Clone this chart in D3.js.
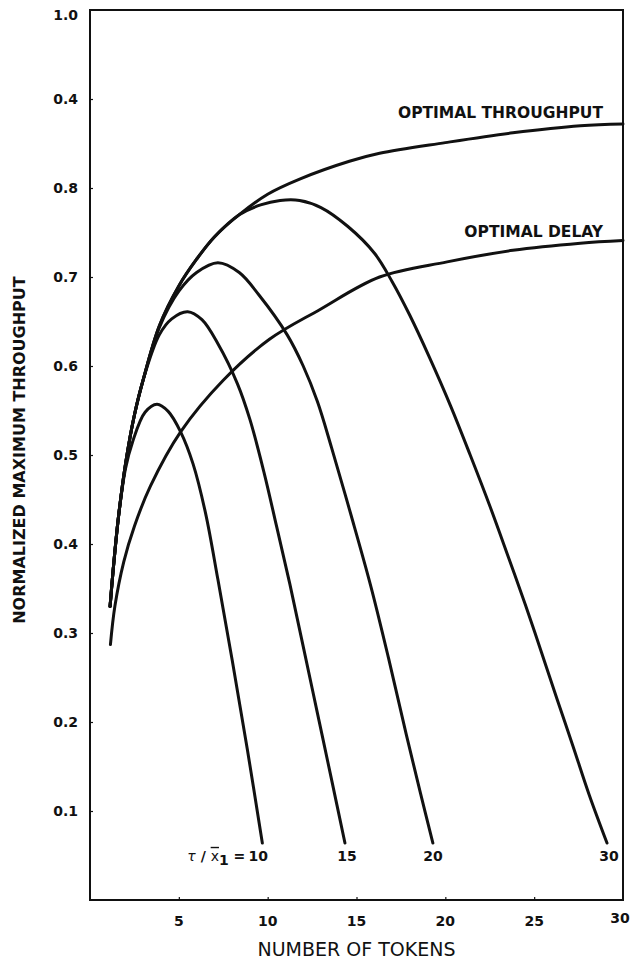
<!DOCTYPE html>
<html>
<head>
<meta charset="utf-8">
<script src="https://cdn.jsdelivr.net/npm/d3@7"></script>
<style>
  body { margin: 0; background: #fff; }
  text { font-family: 'DejaVu Sans', 'Liberation Sans', Arial, sans-serif; fill: #111; }
</style>
</head>
<body>
<svg id="chart" width="630" height="962"></svg>
<script>
// values
const yTicks = [0.1, 0.2, 0.3, 0.4, 0.5, 0.6, 0.7, 0.8, 0.9, 1.0];
const yTickLabels = ['0.1', '0.2', '0.3', '0.4', '0.5', '0.6', '0.7', '0.8', '0.4', '1.0']; // 0.9 is misprinted as 0.4
const xTicks = [5, 10, 15, 20, 25, 30];

const optThroughput = [
  [1.13, 0.33], [1.3, 0.37], [1.6, 0.43], [2.0, 0.49], [2.5, 0.545], [3.0, 0.585],
  [3.9, 0.645], [5.0, 0.69], [6.0, 0.72], [7.0, 0.745], [8.4, 0.77], [10, 0.793],
  [11.8, 0.81], [14.6, 0.83], [16.3, 0.839], [20, 0.851], [23.8, 0.862], [27.6, 0.87], [30, 0.872]
];
const optDelay = [
  [1.15, 0.287], [1.4, 0.33], [1.9, 0.38], [2.5, 0.42], [3.4, 0.465], [5.1, 0.526],
  [7.5, 0.584], [10.1, 0.63], [12.9, 0.663], [16.3, 0.70], [20.1, 0.717], [23.8, 0.73],
  [27.6, 0.738], [30, 0.741]
];
const tau10 = [
  [1.13, 0.33], [1.3, 0.37], [1.6, 0.43], [2.0, 0.485], [2.4, 0.515], [3.1, 0.548],
  [3.77, 0.557], [4.4, 0.549], [5.1, 0.526], [5.8, 0.49], [6.5, 0.435], [7.2, 0.36],
  [8.0, 0.27], [8.85, 0.17], [9.7, 0.064]
];
const tau15 = [
  [1.13, 0.33], [1.3, 0.37], [1.6, 0.43], [2.0, 0.49], [2.5, 0.545], [3.0, 0.585],
  [3.9, 0.635], [4.6, 0.653], [5.5, 0.661], [6.3, 0.652], [7.2, 0.625], [8.3, 0.58],
  [9.0, 0.54], [9.8, 0.48], [10.5, 0.42], [11.25, 0.355], [12.0, 0.285], [12.8, 0.21],
  [13.6, 0.135], [14.35, 0.064]
];
const tau20 = [
  [1.13, 0.33], [1.3, 0.37], [1.6, 0.43], [2.0, 0.49], [2.5, 0.545], [3.0, 0.585],
  [3.9, 0.643], [5.0, 0.684], [6.0, 0.705], [7.2, 0.716], [8.4, 0.705], [9.5, 0.68],
  [11.1, 0.635], [12.0, 0.6], [12.8, 0.56], [13.6, 0.508], [14.7, 0.432], [15.8, 0.353],
  [16.8, 0.272], [17.8, 0.186], [18.6, 0.12], [19.3, 0.064]
];
const tau30 = [
  [1.13, 0.33], [1.3, 0.37], [1.6, 0.43], [2.0, 0.49], [2.5, 0.545], [3.0, 0.585],
  [3.9, 0.645], [5.0, 0.69], [6.0, 0.72], [7.0, 0.745], [8.4, 0.77], [9.6, 0.781],
  [10.7, 0.786], [11.8, 0.786], [13, 0.778], [14.5, 0.757], [16, 0.727], [17, 0.695],
  [18, 0.657], [19.1, 0.61], [20.3, 0.555], [21.4, 0.5], [22.5, 0.443], [23.5, 0.388],
  [24.5, 0.332], [25.4, 0.279], [26.3, 0.225], [27.2, 0.172], [28.1, 0.118], [29.1, 0.064]
];

const curves = [optThroughput, optDelay, tau10, tau15, tau20, tau30];
const tauLabels = [
  { x: 9.7, text: '10' },
  { x: 14.35, text: '15' },
  { x: 19.3, text: '20' },
  { x: 29.1, text: '30' }
];
const tauShift = { '10': -4, '15': 2, '20': 0, '30': 2 };

const width = 630;
const height = 962;
const margin = { top: 10, right: 7, bottom: 62, left: 90 };

const svg = d3.select('#chart');

const x = d3.scaleLinear().domain([0, 30]).range([margin.left, width - margin.right]);
const y = d3.scaleLinear().domain([0, 1]).range([height - margin.bottom, margin.top]);

// frame
svg.append('rect')
  .attr('x', x(0))
  .attr('y', y(1))
  .attr('width', x(30) - x(0))
  .attr('height', y(0) - y(1))
  .attr('fill', 'none')
  .attr('stroke', '#111')
  .attr('stroke-width', 2);

// y axis, small inward ticks
const yAxis = svg.append('g')
  .attr('transform', `translate(${x(0)},0)`)
  .call(d3.axisRight(y).tickValues(yTicks.slice(0, 9)).tickSize(3).tickFormat(''));
yAxis.select('.domain').remove();
yAxis.selectAll('line').attr('stroke', '#111').attr('stroke-width', 1.2);

svg.append('g')
  .selectAll('text')
  .data(yTicks)
  .join('text')
  .attr('x', x(0) - 12)
  .attr('y', (d) => y(d) + (d === 1 ? 10 : 5))
  .attr('text-anchor', 'end')
  .style('font-size', '14px')
  .style('font-weight', 'bold')
  .text((d, i) => yTickLabels[i]);

// x axis
const xAxis = svg.append('g')
  .attr('transform', `translate(0,${y(0)})`)
  .call(d3.axisTop(x).tickValues(xTicks.slice(0, 5)).tickSize(3).tickFormat(''));
xAxis.select('.domain').remove();
xAxis.selectAll('line').attr('stroke', '#111').attr('stroke-width', 1.2);

svg.append('g')
  .selectAll('text')
  .data(xTicks)
  .join('text')
  .attr('x', (d) => x(d) - (d === 30 ? 3 : 0))
  .attr('y', (d) => y(0) + (d === 30 ? 23 : 26))
  .attr('text-anchor', 'middle')
  .style('font-size', '14px')
  .style('font-weight', 'bold')
  .text((d) => d);

// axis titles
svg.append('text')
  .attr('x', (x(0) + x(30)) / 2)
  .attr('y', 956)
  .attr('text-anchor', 'middle')
  .style('font-size', '19px')
  .text('NUMBER OF TOKENS');

svg.append('text')
  .attr('transform', `translate(25,450) rotate(-90)`)
  .attr('text-anchor', 'middle')
  .style('font-size', '16px')
  .style('font-weight', 'bold')
  .text('NORMALIZED MAXIMUM THROUGHPUT');

// curves
const line = d3.line()
  .x((d) => x(d[0]))
  .y((d) => y(d[1]))
  .curve(d3.curveCatmullRom.alpha(0.5));

svg.append('g')
  .selectAll('path')
  .data(curves)
  .join('path')
  .attr('d', line)
  .attr('fill', 'none')
  .attr('stroke', '#111')
  .attr('stroke-width', 3)
  .attr('stroke-linecap', 'round');

// curve labels
svg.append('text')
  .attr('x', x(30) - 20)
  .attr('y', y(0.879))
  .attr('text-anchor', 'end')
  .style('font-size', '15.5px')
  .style('font-weight', 'bold')
  .text('OPTIMAL THROUGHPUT');

svg.append('text')
  .attr('x', x(30) - 20)
  .attr('y', y(0.745))
  .attr('text-anchor', 'end')
  .style('font-size', '15.5px')
  .style('font-weight', 'bold')
  .text('OPTIMAL DELAY');

const tauG = svg.append('g');
tauG.selectAll('text')
  .data(tauLabels)
  .join('text')
  .attr('x', (d) => x(d.x) + tauShift[d.text])
  .attr('y', y(0.044))
  .attr('text-anchor', 'middle')
  .style('font-size', '14px')
  .style('font-weight', 'bold')
  .text((d) => d.text);

// tau / x-bar-1 prefix in front of the first label
const pre = tauG.append('text')
  .attr('x', x(tauLabels[0].x) - 17)
  .attr('y', y(0.044))
  .attr('text-anchor', 'end')
  .style('font-size', '14px')
  .style('font-weight', 'bold');
pre.append('tspan').style('font-style', 'italic').style('font-weight', 'normal').text('τ');
pre.append('tspan').text(' / ');
pre.append('tspan').style('text-decoration', 'overline').style('font-weight', 'normal').text('x');
pre.append('tspan').attr('dy', 4).text('1');
pre.append('tspan').attr('dy', -4).text(' =');
</script>
</body>
</html>
